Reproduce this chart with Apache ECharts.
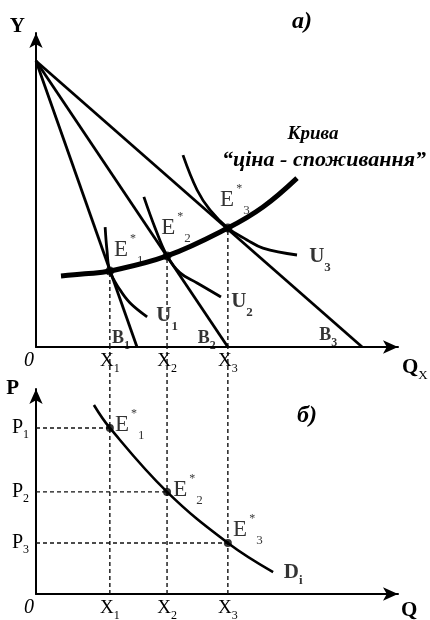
<!DOCTYPE html>
<html><head><meta charset="utf-8">
<script src="https://cdn.jsdelivr.net/npm/echarts@6/dist/echarts.min.js"></script>
<style>html,body{margin:0;padding:0;background:#fff}#c{width:430px;height:620px}</style>
</head><body><div id="c"></div>
<script>
// ---------- data ----------
// top panel (a): budget lines, indifference curves, price-consumption curve
const budgetY = 9.11;                       // common Y intercept of the budget lines
const budgetIntercepts = [2.79, 5.30, 9.01]; // Qx intercepts B1, B2, B3
const budgetNames = ['1', '2', '3'];
const eqX = [2.04, 3.62, 5.30];              // X1, X2, X3
const eqY = [2.42, 2.90, 3.79];              // Y at E*1, E*2, E*3
const xTickNames = ['1', '2', '3'];
const pcc = [[0.69, 2.26], [1.35, 2.33], [2.04, 2.42], [3.62, 2.90], [5.30, 3.79], [6.27, 4.46], [7.21, 5.38]];
const u1 = [[1.91, 3.82], [1.96, 3.09], [2.04, 2.42], [2.32, 1.82], [2.60, 1.40], [3.07, 0.96]];
const u2 = [[2.98, 4.78], [3.29, 3.79], [3.62, 2.90], [3.98, 2.36], [4.45, 2.04], [5.11, 1.59]];
const u3 = [[4.06, 6.11], [4.45, 5.00], [4.81, 4.36], [5.30, 3.79], [5.83, 3.41], [6.27, 3.15], [7.21, 2.93]];
const uNames = ['1', '2', '3'];
// bottom panel (б): demand curve
const prices = [8.10, 4.98, 2.49];          // P1, P2, P3
const priceNames = ['1', '2', '3'];
const demand = [[1.60, 9.22], [2.04, 8.10], [3.62, 4.98], [5.30, 2.49], [6.55, 1.07]];
const topAxisReach = 12.05;                  // top x-axis level in bottom panel units

// ---------- styles ----------
const F = 'Liberation Serif';
const K = '#000';
const rich = {
  e:  {fontFamily: F, fontSize: 23, lineHeight: 34, color: K},
  st: {fontFamily: F, fontSize: 12, lineHeight: 12, verticalAlign: 'top', color: K, padding: [0, 1, 0, 2]},
  es: {fontFamily: F, fontSize: 13, lineHeight: 13, verticalAlign: 'bottom', color: K},
  u:  {fontFamily: F, fontSize: 21, fontWeight: 'bold', lineHeight: 34, color: K},
  us: {fontFamily: F, fontSize: 13, fontWeight: 'bold', lineHeight: 13, verticalAlign: 'bottom', color: K},
  b:  {fontFamily: F, fontSize: 18, fontWeight: 'bold', lineHeight: 28, color: K},
  bs: {fontFamily: F, fontSize: 12, fontWeight: 'bold', lineHeight: 12, verticalAlign: 'bottom', color: K},
  x:  {fontFamily: F, fontSize: 19, lineHeight: 28, color: K},
  xs: {fontFamily: F, fontSize: 12, lineHeight: 12, verticalAlign: 'bottom', color: K},
  p:  {fontFamily: F, fontSize: 20, lineHeight: 26, color: K},
  z:  {fontFamily: F, fontSize: 20, fontStyle: 'italic', lineHeight: 28, color: K, padding: [0, 14, 0, 0]},
  q:  {fontFamily: F, fontSize: 21, fontWeight: 'bold', lineHeight: 28, color: K},
  qs: {fontFamily: F, fontSize: 13, lineHeight: 13, verticalAlign: 'bottom', color: K},
  d:  {fontFamily: F, fontSize: 21, fontWeight: 'bold', lineHeight: 28, color: K}
};
const topEOffsets = [[19, -21], [9, -28], [7, -28]];
const botEOffsets = [[20, -3], [21, -2], [20, -13]];
const uOffsets = [[20, -1], [21, 5], [23, 2]];
const bOffsets = [[-16, -9], [-21, -9], [-34, -12]];
const dOffset = [20, 1];

const solid = (w) => ({color: K, width: w});
const dash = {color: '#111', width: 1.4, type: [4, 3]};
const near = (arr, v) => arr.findIndex(a => Math.abs(a - v) < 1e-6);

const series = [];
// top panel
budgetIntercepts.forEach((bx) => {
  series.push({type: 'line', xAxisIndex: 0, yAxisIndex: 0, symbol: 'none', lineStyle: solid(2.8),
    data: [[0, budgetY], [bx, 0]], z: 3});
});
[u1, u2, u3].forEach((u) => {
  series.push({type: 'line', xAxisIndex: 0, yAxisIndex: 0, symbol: 'none', smooth: 0.4, lineStyle: solid(2.8), data: u, z: 3});
});
series.push({type: 'line', xAxisIndex: 0, yAxisIndex: 0, symbol: 'none', smooth: 0.4, lineStyle: solid(5), data: pcc, z: 4});
eqX.forEach((x, i) => {
  series.push({type: 'line', xAxisIndex: 0, yAxisIndex: 0, symbol: 'none', lineStyle: dash, data: [[x, 0], [x, eqY[i]]], z: 2});
});
series.push({type: 'scatter', xAxisIndex: 0, yAxisIndex: 0, symbolSize: 9, itemStyle: {color: K}, z: 6,
  data: eqX.map((x, i) => ({value: [x, eqY[i]], label: {show: true, position: 'inside', offset: topEOffsets[i], rich,
    formatter: '{e|E}{st|*}{es|' + xTickNames[i] + '}'}}))});
series.push({type: 'scatter', xAxisIndex: 0, yAxisIndex: 0, symbolSize: 1, itemStyle: {color: 'rgba(0,0,0,0)'}, z: 6,
  data: [
    ...[u1, u2, u3].map((u, i) => ({value: u[u.length - 1], label: {show: true, position: 'inside', offset: uOffsets[i], rich,
      formatter: '{u|U}{us|' + uNames[i] + '}'}})),
    ...budgetIntercepts.map((bx, i) => ({value: [bx, 0], label: {show: true, position: 'inside', offset: bOffsets[i], rich,
      formatter: '{b|B}{bs|' + budgetNames[i] + '}'}}))
  ]});
// bottom panel
series.push({type: 'line', xAxisIndex: 1, yAxisIndex: 1, symbol: 'none', smooth: 0.4, lineStyle: solid(2.6), data: demand, z: 4});
eqX.forEach((x, i) => {
  series.push({type: 'line', xAxisIndex: 1, yAxisIndex: 1, symbol: 'none', clip: false, lineStyle: dash, data: [[x, 0], [x, topAxisReach]], z: 2});
  series.push({type: 'line', xAxisIndex: 1, yAxisIndex: 1, symbol: 'none', lineStyle: dash, data: [[0, prices[i]], [x, prices[i]]], z: 2});
});
series.push({type: 'scatter', xAxisIndex: 1, yAxisIndex: 1, symbolSize: 8, itemStyle: {color: K}, z: 6,
  data: eqX.map((x, i) => ({value: [x, prices[i]], label: {show: true, position: 'inside', offset: botEOffsets[i], rich,
    formatter: '{e|E}{st|*}{es|' + xTickNames[i] + '}'}}))});
series.push({type: 'scatter', xAxisIndex: 1, yAxisIndex: 1, symbolSize: 1, itemStyle: {color: 'rgba(0,0,0,0)'}, z: 6,
  data: [{value: demand[demand.length - 1], label: {show: true, position: 'inside', offset: dOffset, rich, formatter: '{d|D}{us|i}'}}]});

const axisLine = {show: true, symbol: ['none', 'arrow'], symbolSize: [10, 15], lineStyle: {color: K, width: 2}};
const xLab = (v) => {
  if (Math.abs(v) < 1e-6) return '{z|0}';
  const i = near(eqX, v);
  return i < 0 ? '' : '{x|X}{xs|' + xTickNames[i] + '}';
};

const option = {
  animation: false,
  backgroundColor: '#fff',
  grid: [
    {left: 36, top: 33, width: 362, height: 314, containLabel: false, outerBoundsMode: 'none'},
    {left: 36, top: 389, width: 362, height: 205, containLabel: false, outerBoundsMode: 'none'}
  ],
  xAxis: [
    {type: 'value', gridIndex: 0, min: 0, max: 10, axisLine, splitLine: {show: false}, axisTick: {show: false},
      axisLabel: {show: true, customValues: [0, ...eqX], formatter: xLab, rich, margin: 0},
      name: '{q|Q}{qs|X}', nameLocation: 'end', nameGap: 4, nameMoveOverlap: false,
      nameTextStyle: {rich, align: 'left', verticalAlign: 'top', padding: [7, 0, 0, 0]}},
    {type: 'value', gridIndex: 1, min: 0, max: 10, axisLine, splitLine: {show: false}, axisTick: {show: false},
      axisLabel: {show: true, customValues: [0, ...eqX], formatter: xLab, rich, margin: 0},
      name: '{q|Q}', nameLocation: 'end', nameGap: 3, nameMoveOverlap: false,
      nameTextStyle: {rich, align: 'left', verticalAlign: 'top', padding: [3, 0, 0, 0]}}
  ],
  yAxis: [
    {type: 'value', gridIndex: 0, min: 0, max: 10, axisLine, splitLine: {show: false}, axisTick: {show: false},
      axisLabel: {show: false},
      name: '{q|Y}', nameLocation: 'end', nameGap: 6, nameMoveOverlap: false,
      nameTextStyle: {rich, align: 'right', verticalAlign: 'middle', padding: [0, 11, 0, 0]}},
    {type: 'value', gridIndex: 1, min: 0, max: 10, axisLine, splitLine: {show: false}, axisTick: {show: false},
      axisLabel: {show: true, customValues: prices, rich, margin: 7,
        formatter: (v) => { const i = near(prices, v); return i < 0 ? '' : '{p|P}{xs|' + priceNames[i] + '}'; }},
      name: '{q|P}', nameLocation: 'end', nameGap: 0, nameMoveOverlap: false,
      nameTextStyle: {rich, align: 'right', verticalAlign: 'middle', padding: [0, 17, 0, 0]}}
  ],
  graphic: [
    {type: 'text', x: 302, y: 22, style: {text: 'a)', fontFamily: F, fontSize: 24, fontWeight: 'bold', fontStyle: 'italic', fill: K, align: 'center', verticalAlign: 'middle'}},
    {type: 'text', x: 313, y: 134, style: {text: 'Крива', fontFamily: F, fontSize: 19, fontWeight: 'bold', fontStyle: 'italic', fill: K, align: 'center', verticalAlign: 'middle'}},
    {type: 'text', x: 324, y: 160, style: {text: '“ціна - споживання”', fontFamily: F, fontSize: 22, fontWeight: 'bold', fontStyle: 'italic', fill: K, align: 'center', verticalAlign: 'middle'}},
    {type: 'text', x: 307, y: 416, style: {text: 'б)', fontFamily: F, fontSize: 24, fontWeight: 'bold', fontStyle: 'italic', fill: K, align: 'center', verticalAlign: 'middle'}}
  ],
  series
};
const chart = echarts.init(document.getElementById('c'), null, {renderer: 'canvas'});
chart.setOption(option);
</script>
</body></html>
